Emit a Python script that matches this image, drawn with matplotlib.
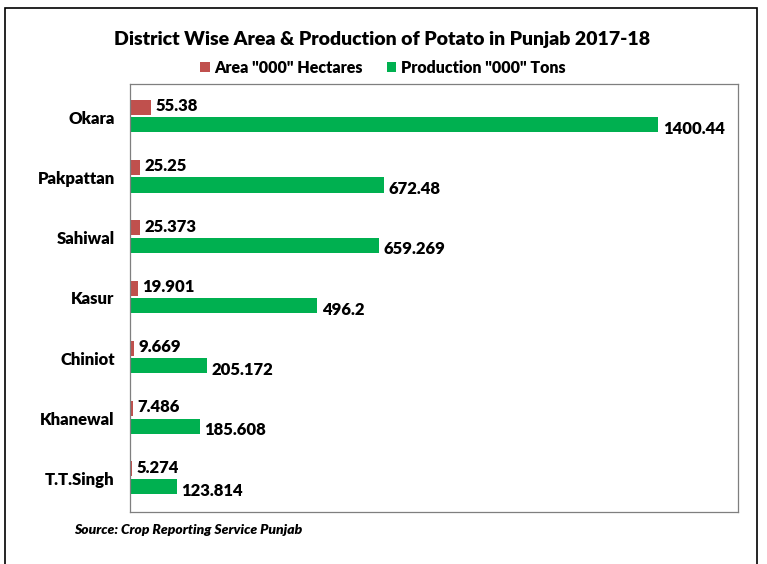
import numpy as np
import matplotlib.pyplot as plt
from matplotlib.patches import Rectangle

plt.rcParams['font.family'] = ['Lato', 'DejaVu Sans']
plt.rcParams['font.weight'] = 'bold'

districts = ['Okara', 'Pakpattan', 'Sahiwal', 'Kasur', 'Chiniot', 'Khanewal', 'T.T.Singh']
area = [55.38, 25.25, 25.373, 19.901, 9.669, 7.486, 5.274]
production = [1400.44, 672.48, 659.269, 496.2, 205.172, 185.608, 123.814]
area_labels = ['55.38', '25.25', '25.373', '19.901', '9.669', '7.486', '5.274']
prod_labels = ['1400.44', '672.48', '659.269', '496.2', '205.172', '185.608', '123.814']

RED = '#C0504D'
GREEN = '#00B050'

fig = plt.figure(figsize=(7.67, 5.64), dpi=100)
# cadre extérieur de l'image
fig.patches.append(Rectangle((5 / 767, -0.05), 752 / 767, 1.05 - 8 / 564,
                             transform=fig.transFigure, fill=False,
                             edgecolor='black', linewidth=1.2))

ax = fig.add_axes([130 / 767, 1 - 512 / 564, 608 / 767, 428 / 564])

y = np.arange(len(districts))
h = 0.25
ax.barh(y - h / 2 - 0.04, area, height=h, color=RED, label='Area "000" Hectares')
ax.barh(y + h / 2 + 0.0, production, height=h, color=GREEN, label='Production "000" Tons')

for i in range(len(districts)):
    ax.text(area[i] + 12, y[i] - h / 2 - 0.06, area_labels[i], va='center', ha='left',
            fontsize=12, fontweight='heavy')
    ax.text(production[i] + 12, y[i] + h / 2 + 0.07, prod_labels[i], va='center', ha='left',
            fontsize=12, fontweight='heavy')

ax.set_xlim(0, 1612)
ax.set_ylim(len(districts) - 0.45, -0.55)
ax.set_yticks(y)
ax.set_yticklabels(districts, fontsize=12, fontweight='heavy')
ax.tick_params(axis='y', length=0, pad=11)
ax.set_xticks([])
for s in ax.spines.values():
    s.set_color('#7F7F7F')
    s.set_linewidth(0.9)

fig.text(382 / 767, 1 - 40 / 564, 'District Wise Area & Production of Potato in Punjab 2017-18',
         ha='center', va='center', fontsize=14, fontweight='heavy')

handles, labels = ax.get_legend_handles_labels()
fig.legend(handles, labels, loc='center', bbox_to_anchor=(383 / 767, 1 - 68 / 564), ncol=2,
           frameon=False, prop={'size': 11.5, 'weight': 'heavy'}, handlelength=0.6,
           handleheight=0.6, handletextpad=0.3, columnspacing=1.5)

fig.text(74 / 767, 1 - 530 / 564, 'Source: Crop Reporting Service Punjab', ha='left', va='center',
         fontsize=10, fontweight='heavy', style='italic')

fig.savefig('out.png', dpi=100)
